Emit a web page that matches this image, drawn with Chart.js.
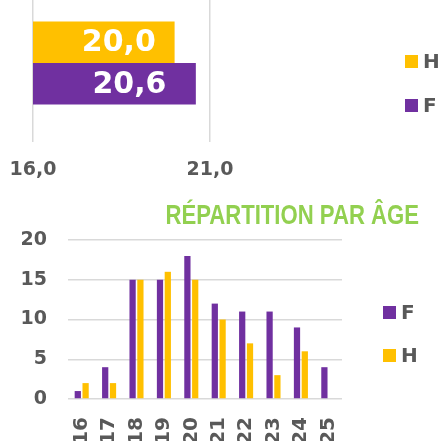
<!DOCTYPE html>
<html>
<head>
<meta charset="utf-8">
<script src="https://cdn.jsdelivr.net/npm/chart.js@4"></script>
<style>
    html, body { margin: 0; padding: 0; background: #fff; overflow: hidden; }
    body { width: 441px; height: 441px; position: relative; font-family: "DejaVu Sans", sans-serif; }
    .box { position: absolute; }
    .legend-item { position: absolute; font-weight: bold; font-size: 20px; color: #595959; line-height: 13px; }
    .legend-item span { display: inline-block; width: 13px; height: 13px; vertical-align: top; margin-right: 5px; }
    #title { position: absolute; right: 22px; top: 199px; color: #92D050; transform: scaleX(0.79); transform-origin: right top;
        font-family: "Liberation Sans", sans-serif; font-weight: bold; font-size: 28px; line-height: 32px; white-space: nowrap; }
</style>
</head>
<body>
<div class="box" style="left:0;top:-16px;width:441px;height:200px"><canvas id="avg-chart"></canvas></div>
<div class="box" style="left:0;top:225px;width:441px;height:216px"><canvas id="age-chart"></canvas></div>
<div id="title">RÉPARTITION PAR ÂGE</div>

<div class="legend-item" style="left:405px;top:55px"><span style="background:#FFC000"></span>H</div>
<div class="legend-item" style="left:405px;top:99px"><span style="background:#7030A0"></span>F</div>
<div class="legend-item" style="left:383px;top:306px"><span style="background:#7030A0"></span>F</div>
<div class="legend-item" style="left:383px;top:349px"><span style="background:#FFC000"></span>H</div>

<script>
// average age per sex
const avgLabels = ["Âge moyen"];
const avgH = [20.0];
const avgF = [20.6];
const avgTicks = [16, 21];

// age distribution
const ages = ["16", "17", "18", "19", "20", "21", "22", "23", "24", "25"];
const countF = [1, 4, 15, 15, 18, 12, 11, 11, 9, 4];
const countH = [2, 2, 15, 16, 15, 10, 7, 3, 6, 0];

const PURPLE = "#7030A0";
const YELLOW = "#FFC000";
const GREY = "#595959";
const GRID = "#D9D9D9";

Chart.defaults.font.family = "'DejaVu Sans', sans-serif";
Chart.defaults.font.weight = "bold";
Chart.defaults.color = GREY;

const fmt = (v) => Number(v).toFixed(1).replace(".", ",");

// white value labels inside the bars
// (base pixel is for 0, way off the left edge, so clamp it to the chart area)
const valueLabels = {
    id: "valueLabels",
    afterDatasetsDraw(chart) {
        const ctx = chart.ctx;
        const left = chart.chartArea.left;
        ctx.save();
        ctx.fillStyle = "#ffffff";
        ctx.font = "bold 30px 'DejaVu Sans', sans-serif";
        ctx.textAlign = "center";
        ctx.textBaseline = "middle";
        chart.data.datasets.forEach((ds, i) => {
            chart.getDatasetMeta(i).data.forEach((bar, j) => {
                const mid = (bar.x + Math.max(bar.base, left)) / 2;
                ctx.fillText(fmt(ds.data[j]), mid + 15, bar.y + 1);
            });
        });
        ctx.restore();
    },
};

new Chart(document.getElementById("avg-chart"), {
    type: "bar",
    data: {
        labels: avgLabels,
        datasets: [
            { label: "H", data: avgH, backgroundColor: YELLOW },
            { label: "F", data: avgF, backgroundColor: PURPLE },
        ],
    },
    options: {
        indexAxis: "y",
        responsive: true,
        maintainAspectRatio: false,
        animation: false,
        layout: { padding: { left: 33, right: 231, top: 0, bottom: 0 } },
        datasets: { bar: { categoryPercentage: 0.525, barPercentage: 1 } },
        plugins: { legend: { display: false }, tooltip: { enabled: false } },
        scales: {
            x: {
                min: avgTicks[0],
                max: avgTicks[avgTicks.length - 1],
                afterBuildTicks: (scale) => {
                    scale.ticks = avgTicks.map((v) => ({ value: v }));
                },
                afterFit: (scale) => {
                    scale.height = 42;
                    scale.paddingLeft = 0;
                    scale.paddingRight = 0;
                },
                grid: { color: GRID, lineWidth: 1.5, drawTicks: false },
                border: { display: false },
                ticks: { padding: 17, font: { size: 19 }, callback: (v) => fmt(v) },
            },
            y: { display: false },
        },
    },
    plugins: [valueLabels],
});

new Chart(document.getElementById("age-chart"), {
    type: "bar",
    data: {
        labels: ages,
        datasets: [
            { label: "F", data: countF, backgroundColor: PURPLE },
            { label: "H", data: countH, backgroundColor: YELLOW },
        ],
    },
    options: {
        responsive: true,
        maintainAspectRatio: false,
        animation: false,
        layout: { padding: { left: 0, right: 99, top: 15, bottom: 0 } },
        datasets: { bar: { categoryPercentage: 0.57, barPercentage: 0.8 } },
        plugins: { legend: { display: false }, tooltip: { enabled: false } },
        scales: {
            x: {
                afterFit: (scale) => {
                    scale.height = 42;
                    scale.paddingLeft = 0;
                    scale.paddingRight = 0;
                },
                grid: { display: false },
                border: { display: false },
                ticks: { padding: 10, minRotation: 90, maxRotation: 90, font: { size: 20 } },
            },
            y: {
                min: 0,
                max: 20,
                afterFit: (scale) => {
                    scale.width = 68;
                    scale.paddingTop = 0;
                    scale.paddingBottom = 0;
                },
                grid: { color: GRID, lineWidth: 1.5, drawTicks: false },
                border: { display: false },
                ticks: { stepSize: 5, padding: 21, font: { size: 19 } },
            },
        },
    },
});
</script>
</body>
</html>
